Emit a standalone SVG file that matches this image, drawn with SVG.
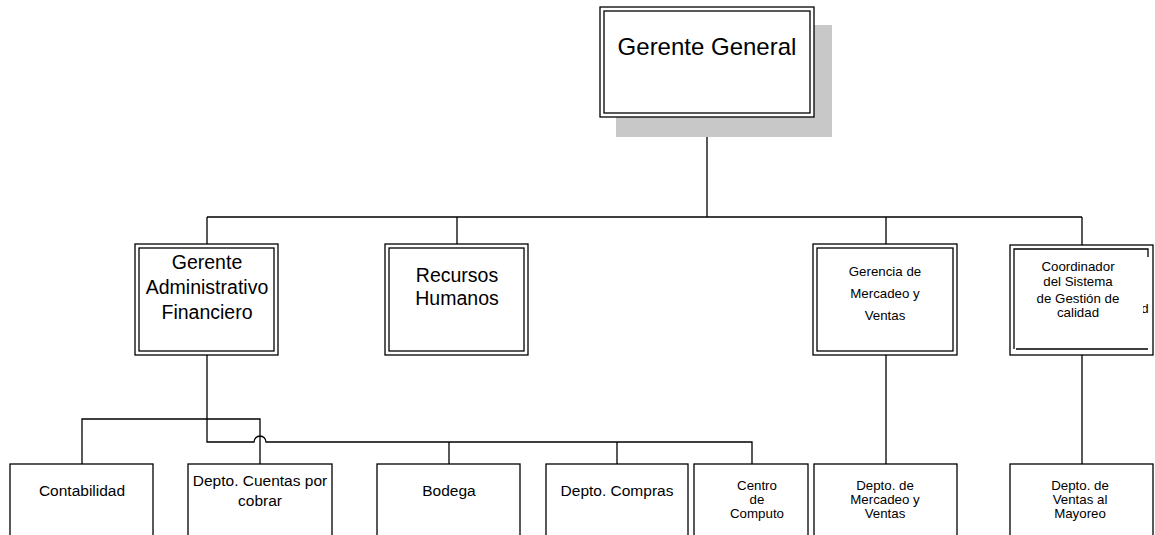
<svg xmlns="http://www.w3.org/2000/svg" width="1155" height="535" viewBox="0 0 1155 535">
<style>
.b{fill:#fff;stroke:#000;stroke-width:1.3}
.i{fill:none;stroke:#000;stroke-width:1.3}
.c{fill:none;stroke:#000;stroke-width:1.3}
text{font-family:"Liberation Sans",Arial,sans-serif;fill:#000;text-anchor:middle}
.f24{font-size:24px}.f19{font-size:19.5px}.f15{font-size:15.5px}.f13{font-size:13.3px}
</style>
<defs>
<clipPath id="dclip"><rect x="1143" y="290" width="10" height="30"/></clipPath>
</defs>
<rect width="1155" height="535" fill="#fff"/>
<g id="connectors">
<path class="c" d="M707 117V217M207 217H1082M207 217V244M457 217V244M886 217V244M1082 217V245"/>
<path class="c" d="M207 355V442H254A6 6 0 0 1 266 442H752V464M82 464V419H260V464M449 442V464M617 442V464"/>
<path class="c" d="M886 355V464M1082 355V464"/>
</g>
<g id="gerente-general">
<rect x="616" y="25" width="216" height="112" fill="#c8c8c8"/>
<rect class="b" x="600" y="7" width="214" height="110"/>
<rect class="i" x="604" y="11" width="206" height="102"/>
<text class="f24" x="707" y="55">Gerente General</text>
</g>
<g id="gerente-administrativo">
<rect class="b" x="135" y="244" width="143" height="111"/>
<rect class="i" x="139" y="248" width="135" height="103"/>
<text class="f19" x="207" y="269">Gerente</text>
<text class="f19" x="207" y="294">Administrativo</text>
<text class="f19" x="207" y="319">Financiero</text>
</g>
<g id="recursos-humanos">
<rect class="b" x="385" y="244" width="143" height="111"/>
<rect class="i" x="389" y="248" width="135" height="103"/>
<text class="f19" x="457" y="282">Recursos</text>
<text class="f19" x="457" y="305">Humanos</text>
</g>
<g id="gerencia-mercadeo">
<rect class="b" x="813" y="244" width="144" height="111"/>
<rect class="i" x="817" y="248" width="136" height="103"/>
<text class="f13" x="885" y="276">Gerencia de</text>
<text class="f13" x="885" y="298">Mercadeo y</text>
<text class="f13" x="885" y="320">Ventas</text>
</g>
<g id="coordinador">
<rect class="b" x="1010" y="245" width="143" height="110"/>
<path class="i" d="M1014 349V249H1148V257M1016 349H1148"/>
<text class="f13" x="1078" y="271">Coordinador</text>
<text class="f13" x="1078" y="286">del Sistema</text>
<text class="f13" x="1078" y="303">de Gestión de</text>
<text class="f13" x="1078" y="317">calidad</text>
<text class="f13" x="1145" y="313" clip-path="url(#dclip)">d</text>
</g>
<g id="contabilidad">
<rect class="b" x="10" y="464" width="143" height="100"/>
<text class="f15" x="82" y="496">Contabilidad</text>
</g>
<g id="cuentas-por-cobrar">
<rect class="b" x="188" y="464" width="144" height="100"/>
<text class="f15" x="260" y="486">Depto. Cuentas por</text>
<text class="f15" x="260" y="506">cobrar</text>
</g>
<g id="bodega">
<rect class="b" x="377" y="464" width="143" height="100"/>
<text class="f15" x="449" y="496">Bodega</text>
</g>
<g id="compras">
<rect class="b" x="546" y="464" width="142" height="100"/>
<text class="f15" x="617" y="496">Depto. Compras</text>
</g>
<g id="centro-computo">
<rect class="b" x="694" y="464" width="114" height="100"/>
<text class="f13" x="757" y="490">Centro</text>
<text class="f13" x="757" y="504">de</text>
<text class="f13" x="757" y="518">Computo</text>
</g>
<g id="depto-mercadeo">
<rect class="b" x="814" y="464" width="143" height="100"/>
<text class="f13" x="885" y="490">Depto. de</text>
<text class="f13" x="885" y="504">Mercadeo y</text>
<text class="f13" x="885" y="518">Ventas</text>
</g>
<g id="ventas-mayoreo">
<rect class="b" x="1010" y="464" width="143" height="100"/>
<text class="f13" x="1080" y="490">Depto. de</text>
<text class="f13" x="1080" y="504">Ventas al</text>
<text class="f13" x="1080" y="518">Mayoreo</text>
</g>
</svg>
